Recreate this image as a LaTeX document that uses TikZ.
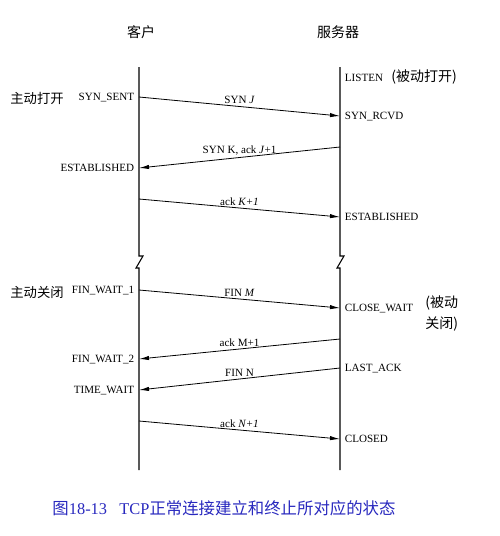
\documentclass[tikz,border=0pt]{standalone}
\usepackage{fontspec}
\setmainfont{Liberation Serif}
\newfontfamily\cjk{Noto Sans CJK SC}
\usetikzlibrary{arrows.meta}
\definecolor{captionblue}{RGB}{40,40,190}

\tikzset{
  head/.style={font=\cjk\fontsize{10.5}{12}\selectfont},
  side/.style={font=\cjk\fontsize{10}{12}\selectfont, anchor=east, inner sep=0pt},
  life/.style={line width=0.8pt},
  msg/.style={->, line width=0.6pt},
  lbl/.style={midway, above, inner sep=1.5pt, font=\fontsize{8.3}{10}\selectfont},
  lstate/.style={anchor=east, inner sep=0pt, xshift=-3.5pt, text depth=0pt, font=\fontsize{8.3}{10}\selectfont},
  rstate/.style={anchor=west, inner sep=0pt, xshift=3.5pt, text depth=0pt, font=\fontsize{8.3}{10}\selectfont},
}

\begin{document}
\begin{tikzpicture}[x=0.75pt,y=-0.75pt,>={Latex[length=7.5pt,width=3.2pt]}]

  \useasboundingbox (0,0) rectangle (500,536);

  % Headings
  \node[head] (client) at (141,32) {客户};
  \node[head] (server) at (338,32) {服务器};

  % Life lines
  \coordinate (ctop) at (139,67);
  \coordinate (cbrk) at (139,256);
  \coordinate (cbot) at (139,470);
  \coordinate (stop) at (340,67);
  \coordinate (sbrk) at (340,256);
  \coordinate (sbot) at (340,470);
  \draw[life] (ctop) -- (cbrk) -- ++(4,0) -- ++(-7,12) -- ++(3,0) -- (cbot);
  \draw[life] (stop) -- (sbrk) -- ++(4,0) -- ++(-7,12) -- ++(3,0) -- (sbot);

  % Points on the life lines
  \coordinate (slisten) at (340,76);
  \coordinate (c1) at (139,97);
  \coordinate (s1) at (340,116);
  \coordinate (s2) at (340,147);
  \coordinate (c2) at (139,168);
  \coordinate (c3) at (139,199);
  \coordinate (s3) at (340,217);
  \coordinate (c4) at (139,290);
  \coordinate (s4) at (340,308);
  \coordinate (s5) at (340,339);
  \coordinate (c5) at (139,359);
  \coordinate (s6) at (340,368);
  \coordinate (c6) at (139,390);
  \coordinate (c7) at (139,421);
  \coordinate (s7) at (340,439);

  % Connection setup
  \node[rstate] (listen) at (slisten) {LISTEN\ \ \ {\cjk\fontsize{10.5}{12}\selectfont (被动打开)}};
  \node[lstate] (synsent) at (c1) {SYN\_SENT};
  \node[side] (actopen) at (64,98) {主动打开};
  \draw[msg] (c1) -- node[lbl] (msyn) {SYN \textit{J}} (s1);
  \node[rstate] (synrcvd) at (s1) {SYN\_RCVD};
  \draw[msg] (s2) -- node[lbl] (msynack) {SYN K, ack \textit{J}+1} (c2);
  \node[lstate] (cestab) at (c2) {ESTABLISHED};
  \draw[msg] (c3) -- node[lbl] (mack) {ack \textit{K+1}} (s3);
  \node[rstate] (sestab) at (s3) {ESTABLISHED};

  % Connection termination
  \node[lstate] (finwait1) at (c4) {FIN\_WAIT\_1};
  \node[side] (actclose) at (64,292) {主动关闭};
  \draw[msg] (c4) -- node[lbl] (mfin1) {FIN \textit{M}} (s4);
  \node[rstate] (closewait) at (s4) {CLOSE\_WAIT};
  \node[anchor=north west, inner sep=0pt, align=left, font=\cjk\fontsize{10.5}{16}\selectfont] (pasclose) at (425,295) {(被动\\关闭)};
  \draw[msg] (s5) -- node[lbl] (mack1) {ack M+1} (c5);
  \node[lstate] (finwait2) at (c5) {FIN\_WAIT\_2};
  \node[rstate] (lastack) at (s6) {LAST\_ACK};
  \draw[msg] (s6) -- node[lbl] (mfin2) {FIN N} (c6);
  \node[lstate] (timewait) at (c6) {TIME\_WAIT};
  \draw[msg] (c7) -- node[lbl] (mack2) {ack \textit{N+1}} (s7);
  \node[rstate] (closed) at (s7) {CLOSED};

  % Caption
  \node[text=captionblue, font=\fontsize{12.3}{14}\selectfont] (caption) at (224,508)
    {{\cjk 图}18-13\ \ \ TCP{\cjk 正常连接建立和终止所对应的状态}};

\end{tikzpicture}
\end{document}
